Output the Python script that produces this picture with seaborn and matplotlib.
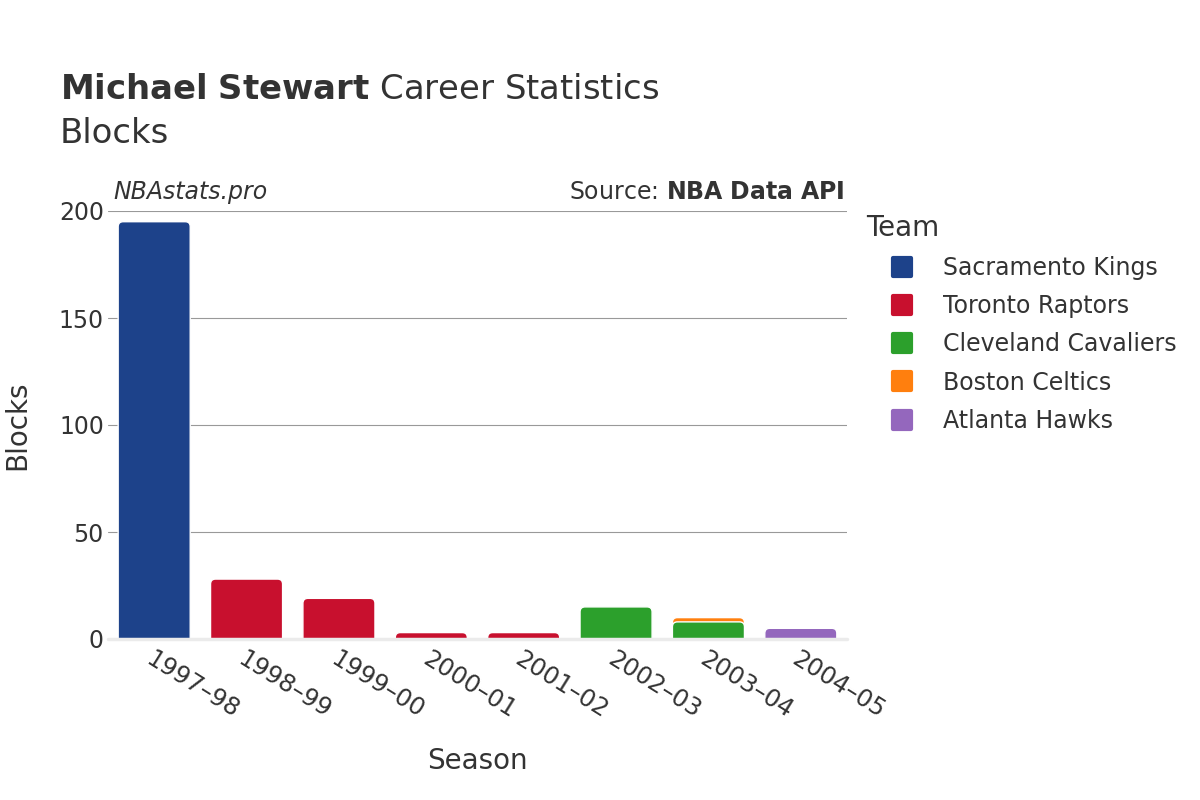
import matplotlib
matplotlib.use("Agg")
import matplotlib.pyplot as plt
import seaborn as sns
import pandas as pd
from matplotlib.lines import Line2D
from matplotlib.markers import MarkerStyle
from matplotlib.patches import FancyBboxPatch, Rectangle

seasons = ["1997–98", "1998–99", "1999–00", "2000–01", "2001–02", "2002–03", "2003–04", "2004–05"]
teams = ["Sacramento Kings", "Toronto Raptors", "Cleveland Cavaliers", "Boston Celtics", "Atlanta Hawks"]
colors = ["#1d428a", "#c8102e", "#2ca02c", "#ff7f0e", "#9467bd"]
# blocks per season for each team (0 where not on team)
sacramento = [195, 0, 0, 0, 0, 0, 0, 0]
toronto = [0, 28, 19, 3, 3, 0, 0, 0]
cleveland = [0, 0, 0, 0, 0, 15, 8, 0]
boston = [0, 0, 0, 0, 0, 0, 2, 0]
atlanta = [0, 0, 0, 0, 0, 0, 0, 5]

series = [sacramento, toronto, cleveland, boston, atlanta]

sns.set_theme(style="white")
plt.rcParams['font.family'] = ['DejaVu Sans']
text_color = "#333333"

fig = plt.figure(figsize=(12, 8), dpi=100)
ax = fig.add_axes([108/1200, 1-639/800, (847-108)/1200, (639-211)/800])

# stacking: cumulative totals, draw top-most first so lower segments overlay
cum = [0]*len(seasons)
tops = []
for s in series:
    cum = [c + v for c, v in zip(cum, s)]
    tops.append(list(cum))
for idx in reversed(range(len(series))):
    vals = [t if v > 0 else 0 for t, v in zip(tops[idx], series[idx])]
    df = pd.DataFrame({"Season": seasons, "Blocks": vals})
    sns.barplot(data=df, x="Season", y="Blocks", order=seasons, color=colors[idx],
                width=0.78, ax=ax, saturation=1, linewidth=0)

ax.set_ylim(0, 200)
ax.set_xlim(-0.5, 7.5)

# round bar corners (bottoms extend below zero and get clipped)
px_x = 739 / 8.0
px_y = 428 / 200.0
r = 5 / px_x
aspect = px_x / px_y
rects = [p for p in ax.patches if isinstance(p, Rectangle)]
for k, p in enumerate(rects):
    h = p.get_height()
    fc = p.get_facecolor()
    p.remove()
    if h <= 0:
        continue
    x0 = p.get_x()
    w = p.get_width()
    fb = FancyBboxPatch((x0, -6), w, h + 6,
                        boxstyle=f"round,pad=0,rounding_size={r}",
                        mutation_aspect=aspect, facecolor=fc, edgecolor="white",
                        linewidth=1.0, zorder=3 + k * 0.001)
    ax.add_patch(fb)

ax.set_yticks([0, 50, 100, 150, 200])
ax.yaxis.grid(True, color="#999999", linewidth=0.8)
ax.set_axisbelow(True)
ax.axhline(0, color="#ebebeb", linewidth=2.5, zorder=4, clip_on=False)
for s in ax.spines.values():
    s.set_visible(False)
ax.tick_params(axis="y", labelsize=17, labelcolor=text_color, length=0, pad=3)
ax.tick_params(axis="x", labelsize=17.5, labelcolor=text_color, length=0, pad=6)
ax.set_xticks(range(len(seasons)))
ax.set_xticklabels(seasons, rotation=-32, ha="left", va="top", rotation_mode="anchor")
ax.set_xlabel("Season", fontsize=20, color=text_color)
ax.set_ylabel("Blocks", fontsize=20, color=text_color)
ax.yaxis.set_label_coords(-77/739, 0.5)
ax.xaxis.set_label_coords(0.5, -108/428)

fig.text(60/1200, 1-99/800, r"$\bf{Michael\ Stewart}$ Career Statistics", fontsize=24.4, color=text_color, va="baseline")
fig.text(60/1200, 1-143/800, "Blocks", fontsize=24.4, color=text_color, va="baseline")
fig.text(113/1200, 1-199/800, "NBAstats.pro", fontsize=17, style="italic", color=text_color, va="baseline")
fig.text(845/1200, 1-199/800, r"Source: $\bf{NBA\ Data\ API}$", fontsize=17, color=text_color, va="baseline", ha="right")

handles = [Line2D([0], [0], marker=MarkerStyle("s", joinstyle="round"), linestyle="none",
                  markersize=13, markerfacecolor=c, markeredgecolor=c, markeredgewidth=3)
           for c in colors]
leg = fig.legend(handles, teams, loc="upper left", bbox_to_anchor=(866/1200, 1-214/800),
                 frameon=False, fontsize=17, title="Team", title_fontsize=20,
                 labelspacing=0.6, handletextpad=0.2, handlelength=3.05,
                 alignment="left", borderaxespad=0, borderpad=0)
for t in leg.get_texts():
    t.set_color(text_color)
leg.get_title().set_color(text_color)

fig.savefig("out.png", dpi=100)
